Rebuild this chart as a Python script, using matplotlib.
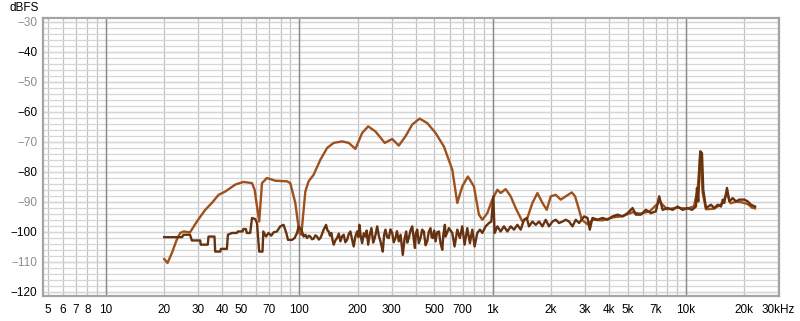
import matplotlib
matplotlib.use("Agg")
from matplotlib import pyplot as plt
from matplotlib.ticker import NullFormatter

# Signal response (smooth curve)
sig_f = [20, 20.8, 21.9, 23.2, 24.2, 25.2, 27.2, 29.5, 32.6, 35.3, 38.2, 41.4, 46.6, 51.4,
         56.9, 58.7, 62.0, 64.1, 68.0, 75.1, 86.4, 89.8, 95.3, 100, 102.4, 107.4, 111.7,
         118.6, 128.5, 139.2, 150.6, 166.4, 180.1, 195.1, 211.3, 227.0, 247.6, 276.7,
         302.2, 327.0, 354.2, 383.7, 418.8, 458.9, 506.8, 559.6, 618.3, 656.5, 696.6,
         744.7, 800.3, 849.4, 884.5, 938.7, 996, 1058, 1100, 1168, 1240, 1316, 1425,
         1513, 1606, 1705, 1810, 1905, 1998, 2121, 2251, 2389, 2567, 2670, 2800, 2891,
         3100, 3300, 3700, 4200, 4700, 5300, 5800, 6500, 7300, 8000, 9000, 10200, 11000,
         11500, 11860, 12200, 12700, 14000, 15500, 16300, 17000, 18200, 19500, 20900,
         22000, 22780]
sig_db = [-109.1, -110.4, -107.1, -102.7, -100.4, -99.9, -100.2, -96.6, -92.7, -90.4, -87.7,
          -86.6, -84.3, -83.4, -83.8, -86.0, -96.6, -83.8, -82.1, -83.0, -83.2, -83.8,
          -90.4, -100.4, -101.0, -86.6, -83.2, -81.0, -76.0, -72.1, -70.4, -69.9, -70.4,
          -72.4, -67.1, -64.9, -66.6, -70.4, -69.1, -71.3, -68.2, -64.3, -62.3, -63.8,
          -67.1, -71.6, -79.3, -90.4, -84.9, -81.6, -84.9, -94.3, -96.0, -93.8, -89.3,
          -86.0, -87.1, -85.8, -88.2, -92.1, -96.6, -95.4, -90.4, -87.1, -90.4, -92.7,
          -88.2, -87.7, -89.3, -88.2, -86.9, -88.2, -92.7, -96.0, -97.5, -96.0, -96.2,
          -95.2, -94.8, -93.5, -94.0, -93.2, -90.0, -92.5, -92.0, -92.3, -91.5, -86.0,
          -74.0, -87.0, -92.5, -92.3, -90.5, -87.0, -90.5, -90.0, -90.2, -90.8, -92.0,
          -92.2]

# Noise floor, 20 Hz - 100 Hz
noise_low_f = [20, 24.7, 25.2, 27.2, 27.8, 30.7, 30.9, 33.6, 33.9, 36.4, 36.7, 39.0, 39.3,
               42.2, 42.7, 44.8, 47.6, 48.1, 50.8, 51.4, 52.9, 53.5, 55.7, 56.9, 59.2, 60.4,
               62.0, 64.5, 65.1, 67.2, 69.3, 71.6, 73.6, 76.6, 79.7, 82.9, 85.6, 87.4, 91.7,
               94.5, 97.3, 99.2]
noise_low_db = [-101.8, -101.8, -101.0, -101.0, -102.9, -102.9, -104.3, -104.3, -101.6,
                -101.6, -106.6, -106.6, -105.7, -105.7, -101.0, -100.4, -100.4, -99.9, -99.9,
                -99.1, -99.1, -100.4, -100.4, -95.4, -95.8, -97.1, -106.6, -106.6, -99.9,
                -101.6, -100.4, -101.3, -100.2, -99.9, -98.2, -97.7, -100.4, -102.7, -102.7,
                -102.1, -100.4, -98.2]

# Noise floor, 100 Hz - 570 Hz
noise_mid_f = [102.4, 105.3, 107.5, 109.6, 112, 114.0, 116.3, 118.6, 121, 123.5,
               126, 128.5, 131, 133.6, 137.5, 139.7, 141.9, 144, 146.5, 148.5,
               150.6, 153.5, 156.8, 160, 163.1, 166.5, 169.7, 173, 176.7, 180,
               183.8, 187.5, 191.1, 195, 199.1, 202, 204.6, 207.5, 211.3, 215.5,
               219.8, 223, 227.0, 231.5, 236.1, 241, 245.6, 249, 252.7, 258,
               262.8, 266, 270.2, 274.5, 279.0, 284.5, 290.2, 296, 302.2, 308,
               314.4, 320, 327.0, 334, 342.9, 350, 357.1, 362, 368.4, 376,
               383.7, 389.5, 395.8, 401, 407.3, 415, 423.7, 432, 440.6, 450,
               458.9, 467, 477.2, 483.5, 490.5, 498, 506.8, 516, 527.1, 538,
               548.9, 556, 566.2]
noise_mid_db = [-99.3, -101.6, -101.0, -102.1, -101.3, -101.6, -102.5, -102.3, -101.2, -101.6,
                -102.6, -102.1, -100.8, -99.3, -97.7, -99.5, -99.9, -101.3, -100.4, -102.8,
                -104.3, -102.9, -102.1, -100.6, -103.2, -101.5, -101.0, -103.5, -102.7, -100.8,
                -99.9, -102.6, -104.9, -101.5, -99.9, -101.8, -97.7, -101.2, -103.8, -100.5,
                -101.6, -99.6, -104.3, -100.9, -98.8, -103.6, -102.1, -100.4, -98.2, -101.4,
                -103.2, -104.6, -106.6, -101.0, -99.3, -101.8, -102.1, -99.2, -100.4, -103.5,
                -102.1, -99.8, -103.2, -101.0, -107.7, -102.5, -99.9, -103.6, -102.1, -99.5,
                -98.2, -101.6, -105.4, -100.5, -99.3, -103.8, -102.1, -99.3, -99.9, -104.5,
                -103.2, -100.1, -98.8, -101.8, -102.1, -99.6, -103.2, -100.2, -99.9, -103.9,
                -106.0, -101.0, -97.7]

# Noise floor, 570 Hz - 23 kHz
noise_high_f = [571.0, 593.9, 618.3, 635.6, 656.5, 677.0, 696.6, 716.1, 739.5, 762.9, 785.0,
                806.8, 833.2, 859.5, 884.5, 919.9, 956.7, 984.7, 1008, 1024, 1058, 1100,
                1144, 1192, 1240, 1290, 1343, 1397, 1453, 1501, 1542, 1606, 1671, 1738, 1810,
                1882, 1957, 2039, 2121, 2206, 2297, 2389, 2485, 2588, 2692, 2800, 2972, 3096,
                3181, 3285, 3488, 3702, 3930, 4171, 4428, 4699, 4989, 5295, 5508, 5847, 6205,
                6587, 6993, 7273, 7574, 8040, 8534, 9060, 9614, 10204, 10743, 11268, 11404,
                11580, 11860, 12104, 12292, 12696, 13475, 14016, 14596, 15180, 15497, 15790,
                16307, 16764, 17458, 18160, 18890, 20052, 20880, 21716, 22780]
noise_high_db = [-101.6, -98.8, -100.4, -104.9, -99.3, -102.1, -98.2, -104.3, -98.8, -103.8,
                 -99.3, -104.9, -100.4, -99.3, -100.4, -98.2, -97.1, -96.6, -88.2, -100.4,
                 -98.2, -99.9, -98.2, -99.9, -98.2, -99.3, -97.7, -99.3, -96.0, -95.4, -98.2,
                 -96.6, -97.7, -96.6, -98.2, -96.0, -98.2, -96.6, -96.0, -97.1, -96.6, -96.0,
                 -96.6, -98.2, -96.0, -97.1, -94.9, -95.4, -99.3, -95.4, -96.0, -95.4, -96.0,
                 -94.9, -94.3, -94.9, -93.8, -92.1, -94.3, -94.3, -92.7, -93.8, -93.2, -88.2,
                 -92.7, -92.1, -92.7, -91.6, -92.7, -92.1, -92.7, -91.6, -85.4, -89.9, -73.2,
                 -73.8, -86.0, -92.1, -91.0, -92.1, -91.0, -91.6, -89.3, -90.4, -85.4, -89.9,
                 -88.8, -89.9, -89.3, -89.3, -89.9, -91.0, -91.6]

x_tick_vals = [5, 6, 7, 8, 10, 20, 30, 40, 50, 70, 100, 200, 300, 500, 700, 1000,
               2000, 3000, 4000, 5000, 7000, 10000, 20000, 30000]
x_tick_labels = ["5", "6", "7", "8", "10", "20", "30", "40", "50", "70", "100", "200",
                 "300", "500", "700", "1k", "2k", "3k", "4k", "5k", "7k", "10k", "20k",
                 "30kHz"]
y_tick_vals = list(range(-120, -29, 10))

plt.rcParams['font.family'] = ['Liberation Sans', 'DejaVu Sans']

fig = plt.figure(figsize=(8, 3.21), dpi=100)
ax = fig.add_axes([43 / 800, 25 / 321, 736 / 800, 278 / 321])

ax.set_xscale('log')
ax.set_xlim(4.72, 30300)
ax.set_ylim(-121.4, -28.8)

noise_f = noise_low_f + noise_mid_f + noise_high_f
noise_db = noise_low_db + noise_mid_db + noise_high_db
ax.plot(sig_f, sig_db, color='#9e501d', lw=1.7, zorder=3)
ax.plot(noise_f, noise_db, color='#663210', lw=1.7, zorder=4)

# grid
ax.xaxis.remove_overlapping_locs = False
ax.yaxis.remove_overlapping_locs = False
grid_x = [m * 10 ** e for e in range(0, 5) for m in range(1, 10) if 4.7 < m * 10 ** e < 30300]
ax.set_xticks(grid_x, minor=True)
ax.set_xticks(x_tick_vals, x_tick_labels)
ax.xaxis.set_minor_formatter(NullFormatter())
ax.set_yticks(y_tick_vals)
ax.set_yticks(list(range(-120, -28, 2)), minor=True)
ax.yaxis.set_minor_formatter(NullFormatter())
ax.grid(which='minor', axis='x', color='#c2c2c2', lw=0.9)
ax.grid(which='minor', axis='y', color='#d6d6d6', lw=0.9)
ax.grid(which='major', axis='y', color='#bababa', lw=0.9)
for d in [10, 100, 1000, 10000]:
    ax.axvline(d, color='#8a8a8a', lw=1.0, zorder=1)
ax.set_axisbelow(True)

ax.tick_params(which='both', length=0, labelsize=8.5, pad=6)
ax.tick_params(axis='y', pad=4)
for lab, v in zip(ax.get_yticklabels(), y_tick_vals):
    lab.set_color('#000000' if v % 20 == 0 else '#8c8c8c')

for s in ax.spines.values():
    s.set_color('#a4a4a4')
    s.set_linewidth(1.6)

fig.text(10 / 800, 1 - 8 / 321, "dBFS", fontsize=8.5, va='center', ha='left')

fig.savefig("out.png", dpi=100)
